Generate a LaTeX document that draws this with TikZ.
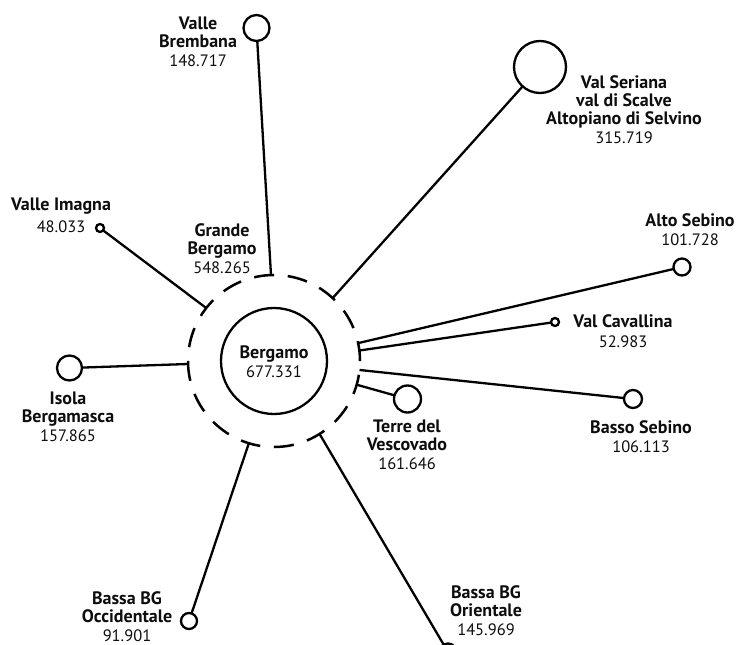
\documentclass[tikz,border=0pt]{standalone}
\usepackage{fontspec}
\setmainfont{PT Sans}
\newcommand{\nm}[1]{{\fontsize{18}{18}\selectfont\bfseries #1}}
\begin{document}
\begin{tikzpicture}[x=1pt,y=-1pt,
  conn/.style={line width=2.3pt, draw=black},
  sat/.style={circle, draw=black, line width=2.3pt, inner sep=0pt, outer sep=0pt, minimum size=#1},
  lbl/.style={align=center, text=black!95, font=\fontsize{16.5}{18}\selectfont, inner sep=0pt},
]
\useasboundingbox[fill=white] (0,0) rectangle (737,645);

% centre
\node[sat=172pt, line width=2.5pt, dash pattern=on 20pt off 13.77pt] (gb) at (274,361) {};
\node[sat=106pt] (bg) at (274,361) {};
\node[lbl] (bgl) at (274,362) {\nm{Bergamo}\\[1pt]677.331};
\node[lbl] (gbl) at (222,249) {\nm{Grande}\\\nm{Bergamo}\\[1pt]548.265};

% satellites
\node[sat=26pt] (vb) at (256.5,28) {};
\node[sat=52pt] (vs) at (540,67) {};
\node[sat=17pt] (as) at (682,267) {};
\node[sat=8pt]  (vc) at (555,322) {};
\node[sat=18pt] (bs) at (633,399) {};
\node[sat=27pt] (tv) at (407.5,399) {};
\node[sat=17pt] (bo) at (448,652) {};
\node[sat=16pt] (bc) at (189,621) {};
\node[sat=25pt] (ib) at (69.5,368) {};
\node[sat=8pt]  (vi) at (100,228) {};

% connectors
\draw[conn] (gb.92.7) -- (vb);
\draw[conn] (gb.47) -- (vs);
\draw[conn] (gb.12.7) -- (as);
\draw[conn] (gb.7.3) -- (vc);
\draw[conn] (gb.-6.6) -- (bs);
\draw[conn] (gb.-16) -- (tv);
\draw[conn] (gb.-58) -- (bo);
\draw[conn] (gb.-107.8) -- (bc);
\draw[conn] (gb.182.7) -- (ib);
\draw[conn] (gb.142) -- (vi);

% labels
\node[lbl] (vbl) at (198,42) {\nm{Valle}\\\nm{Brembana}\\[1pt]148.717};
\node[lbl] (vsl) at (624,110) {\nm{Val Seriana}\\\nm{val di Scalve}\\\nm{Altopiano di Selvino}\\[1pt]315.719};
\node[lbl] (asl) at (690,230) {\nm{Alto Sebino}\\[1pt]101.728};
\node[lbl] (vcl) at (623,331) {\nm{Val Cavallina}\\[2pt]52.983};
\node[lbl] (bsl) at (641,437) {\nm{Basso Sebino}\\[1pt]106.113};
\node[lbl] (tvl) at (407,445) {\nm{Terre del}\\\nm{Vescovado}\\[1pt]161.646};
\node[lbl] (bol) at (486,611) {\nm{Bassa BG}\\\nm{Orientale}\\[1pt]145.969};
\node[lbl] (bcl) at (127,617) {\nm{Bassa BG}\\\nm{Occidentale}\\[1pt]91.901};
\node[lbl] (ibl) at (68,417) {\nm{Isola}\\\nm{Bergamasca}\\[1pt]157.865};
\node[lbl] (vil) at (61,215) {\nm{Valle Imagna}\\[4pt]48.033};
\end{tikzpicture}
\end{document}
